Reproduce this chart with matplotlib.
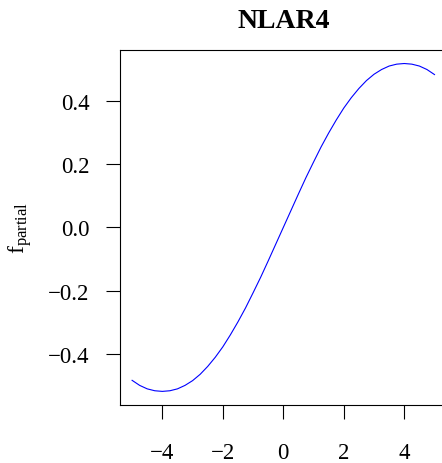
import matplotlib
matplotlib.use("Agg")
import matplotlib.pyplot as plt

x_vals = [-5.0, -4.75, -4.5, -4.25, -4.0, -3.75, -3.5, -3.25, -3.0, -2.75, -2.5,
          -2.25, -2.0, -1.75, -1.5, -1.25, -1.0, -0.75, -0.5, -0.25, 0.0,
          0.25, 0.5, 0.75, 1.0, 1.25, 1.5, 1.75, 2.0, 2.25, 2.5,
          2.75, 3.0, 3.25, 3.5, 3.75, 4.0, 4.25, 4.5, 4.75, 5.0]
f_partial = [-0.484, -0.500, -0.511, -0.517, -0.519, -0.517, -0.511, -0.500, -0.485, -0.465, -0.440,
             -0.411, -0.378, -0.340, -0.299, -0.255, -0.207, -0.158, -0.106, -0.053, 0.000,
             0.053, 0.106, 0.158, 0.207, 0.255, 0.299, 0.340, 0.378, 0.411, 0.440,
             0.465, 0.485, 0.500, 0.511, 0.517, 0.519, 0.517, 0.511, 0.500, 0.484]
x_ticks = [-4, -2, 0, 2, 4]
y_ticks = [-0.4, -0.2, 0.0, 0.2, 0.4]

plt.rcParams['font.family'] = ['Liberation Serif', 'DejaVu Serif']
plt.rcParams['mathtext.fontset'] = 'custom'
plt.rcParams['mathtext.rm'] = 'Liberation Serif'
plt.rcParams['mathtext.it'] = 'Liberation Serif:italic'

W, H = 442, 464
fig = plt.figure(figsize=(W / 100, H / 100), dpi=100)
left, right, top, bottom = 120, 446.6, 51.4, 405.5
ax = fig.add_axes([left / W, 1 - bottom / H, (right - left) / W, (bottom - top) / H])

ax.plot(x_vals, f_partial, color='blue', lw=0.8)

xmin, xmax = min(x_vals), max(x_vals)
ymin, ymax = min(f_partial), max(f_partial)
dx = (xmax - xmin) * 0.04
dy = (ymax - ymin) * 0.04
ax.set_xlim(xmin - dx, xmax + dx)
ax.set_ylim(ymin - dy, ymax + dy)

ax.set_xticks(x_ticks)
ax.set_xticklabels([f"{v:d}".replace('-', '\u2212') for v in x_ticks])
ax.set_yticks(y_ticks)
ax.set_yticklabels([f"{v:.1f}".replace('-', '\u2212') for v in y_ticks])

for s in ax.spines.values():
    s.set_linewidth(0.8)
ax.tick_params(direction='out', length=10, width=0.8, labelsize=16.5)
ax.tick_params(axis='x', pad=17)
ax.tick_params(axis='y', pad=12)

ax.set_title('NLAR4', fontsize=20, fontweight='bold', pad=17)
ax.set_ylabel(r'$\mathrm{f}_{\mathrm{partial}}$', fontsize=17)
ax.yaxis.set_label_coords(-0.262, 0.5)

fig.savefig('out.png', dpi=100)
